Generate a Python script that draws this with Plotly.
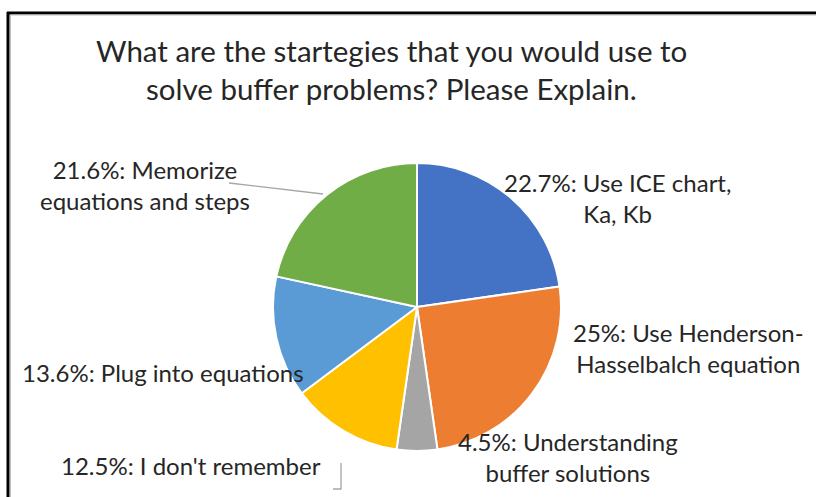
import plotly.graph_objects as go

W, H = 816, 497

categories = ["Use ICE chart, Ka, Kb", "Use Henderson-Hasselbalch equation",
              "Understanding buffer solutions", "I don't remember",
              "Plug into equations", "Memorize equations and steps"]
counts = [20, 22, 4, 11, 12, 19]
label_text = ["22.7%: Use ICE chart,<br>Ka, Kb",
              "25%: Use Henderson-<br>Hasselbalch equation",
              "4.5%: Understanding<br>buffer solutions",
              "12.5%: I don't remember",
              "13.6%: Plug into equations",
              "21.6%: Memorize<br>equations and steps"]
colors = ["#4472C4", "#ED7D31", "#A5A5A5", "#FFC000", "#5B9BD5", "#70AD47"]

title_lines = ["What are the startegies that you would use to",
               "solve buffer problems? Please Explain."]

FONT = "Lato, Open Sans, sans-serif"
TXT = "#262626"

def px(x):
    return x / W

def py(y):
    return 1 - y / H

cx, cy, r = 417, 307, 144

fig = go.Figure(go.Pie(
    labels=categories, values=counts, sort=False, direction="clockwise",
    rotation=0, textinfo="none", hoverinfo="label+percent",
    marker=dict(colors=colors, line=dict(color="white", width=2)),
    domain=dict(x=[px(cx - r), px(cx + r)], y=[py(cy + r), py(cy - r)]),
    showlegend=False,
))

# label centre positions
label_pos = [(617, 198), (688, 348), (568, 457), (191, 465), (163, 372), (145, 185)]

ann = []
for t, (x, y) in zip(label_text, label_pos):
    ann.append(dict(text=t, x=px(x), y=py(y), xref="paper", yref="paper",
                    xanchor="center", yanchor="middle", showarrow=False,
                    align="center", font=dict(family=FONT, size=24, color=TXT)))
for t, y in zip(title_lines, [50, 89]):
    ann.append(dict(text=t, x=px(391), y=py(y), xref="paper",
                    yref="paper", xanchor="center", yanchor="middle", showarrow=False,
                    align="center", font=dict(family=FONT, size=29.5, color=TXT)))

shapes = [
    # frame
    dict(type="line", xref="paper", yref="paper", x0=px(7), x1=px(816), y0=py(13), y1=py(13),
         line=dict(color="black", width=3)),
    dict(type="line", xref="paper", yref="paper", x0=px(8), x1=px(8), y0=py(12), y1=0,
         line=dict(color="black", width=3)),
    dict(type="line", xref="paper", yref="paper", x0=px(10.5), x1=px(816), y0=py(15), y1=py(15),
         line=dict(color="#BFBFBF", width=1)),
    dict(type="line", xref="paper", yref="paper", x0=px(10.5), x1=px(10.5), y0=py(15), y1=0,
         line=dict(color="#BFBFBF", width=1)),
    # leader lines
    dict(type="path", xref="paper", yref="paper",
         path=f"M {px(229)} {py(183)} L {px(323)} {py(194)}",
         line=dict(color="#A6A6A6", width=1.3)),
    dict(type="path", xref="paper", yref="paper",
         path=f"M {px(341)} {py(463)} L {px(341)} {py(489)} L {px(333)} {py(489)}",
         line=dict(color="#A6A6A6", width=1.3)),
]

fig.update_layout(
    width=W, height=H, margin=dict(l=0, r=0, t=0, b=0),
    paper_bgcolor="white", plot_bgcolor="white",
    annotations=ann, shapes=shapes,
)

fig.write_html("out.html", config={"displayModeBar": False},
               post_script="document.body.style.margin='0';document.body.style.padding='0';")
